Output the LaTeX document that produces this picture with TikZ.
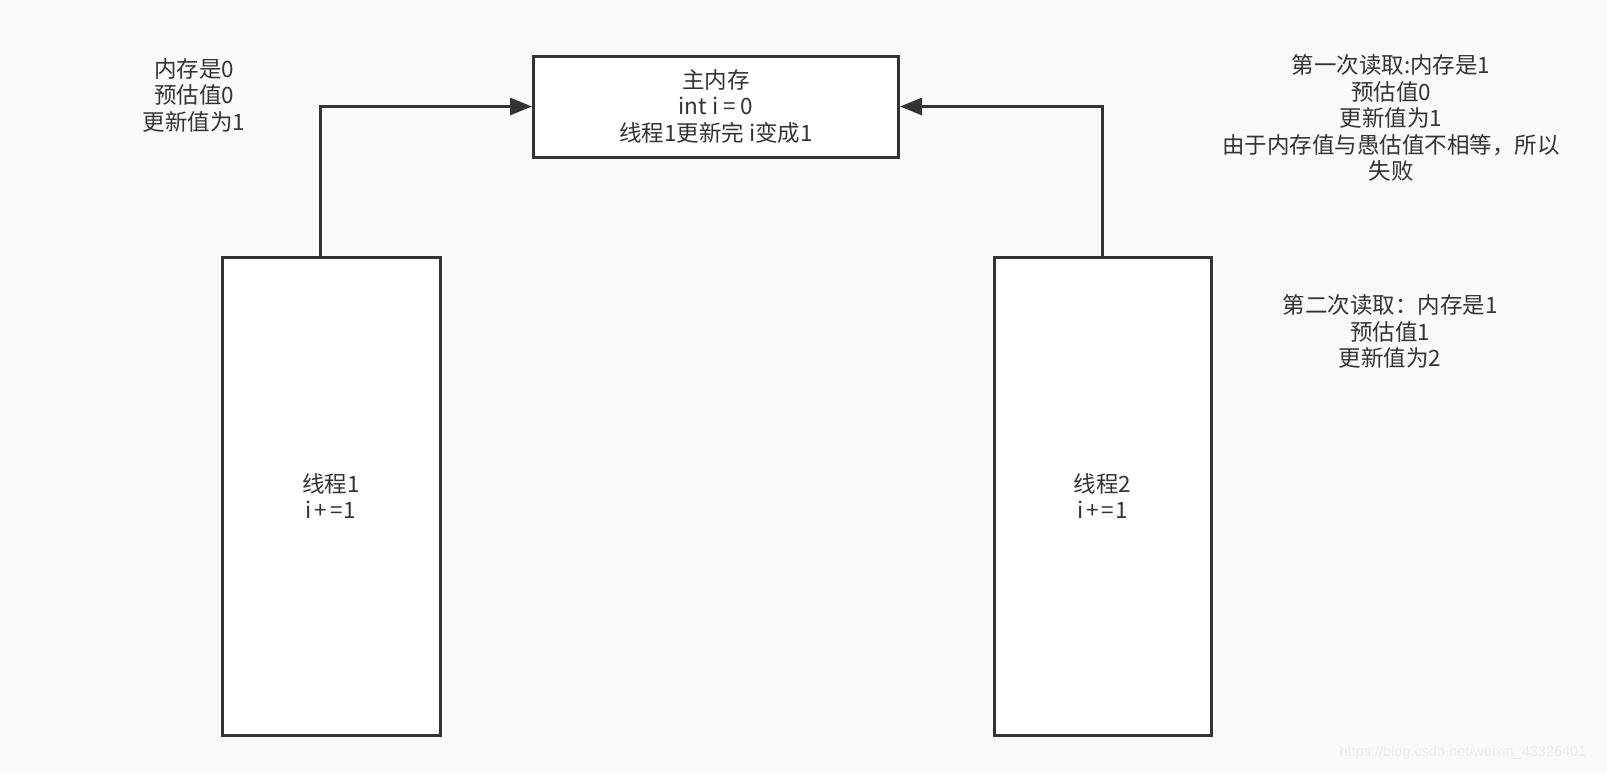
\documentclass[tikz,border=0pt]{standalone}
\usepackage{fontspec}
\setmainfont{Noto Sans CJK SC}
\newfontfamily\wmfont{Liberation Sans}
\usetikzlibrary{arrows.meta}
\definecolor{bg}{HTML}{FAFAFA}
\definecolor{ln}{HTML}{333333}
\definecolor{tx}{HTML}{333333}
\definecolor{wm}{HTML}{EBEBEB}
\newcommand{\ipe}{i\kern3pt+\kern3pt=\kern1pt1}
\begin{document}
\begin{tikzpicture}[x=1pt,y=-1pt,
  txt/.style={align=center,text=tx,font=\fontsize{22.5}{26.5}\selectfont,inner sep=0pt},
  box/.style={draw=ln,line width=3pt,fill=white,align=center,text=tx,font=\fontsize{22.5}{26.5}\selectfont,inner sep=0pt},
  arr/.style={draw=ln,line width=3pt,-{Triangle[length=22pt,width=17pt]}}]
\fill[bg] (0,0) rectangle (1607,772);
\useasboundingbox (0,0) rectangle (1607,772);
\node[box,minimum width=365pt,minimum height=101pt] (main) at (716,106.5) {主内存\\int i = 0\\线程1更新完 i变成1};
\node[box,minimum width=218pt,minimum height=478pt] (t1) at (331,496) {线程1\\\ipe};
\node[box,minimum width=217pt,minimum height=478pt] (t2) at (1102.5,496) {线程2\\\ipe};
\draw[arr] ([xshift=-11pt]t1.north) |- (main.west);
\draw[arr] (t2.north) |- (main.east);
\node[txt] (n1) at (194,95) {内存是0\\预估值0\\更新值为1};
\node[txt] (n2) at (1391,118) {第一次读取:内存是1\\预估值0\\更新值为1\\由于内存值与愚估值不相等，所以\\失败};
\node[txt] (n3) at (1390,331.5) {第二次读取：内存是1\\预估值1\\更新值为2};
\node[text=wm,font=\wmfont\fontsize{14.5}{16}\selectfont,inner sep=0pt] (wmk) at (1463,753) {https://blog.csdn.net/weixin\_43326401};
\end{tikzpicture}
\end{document}
